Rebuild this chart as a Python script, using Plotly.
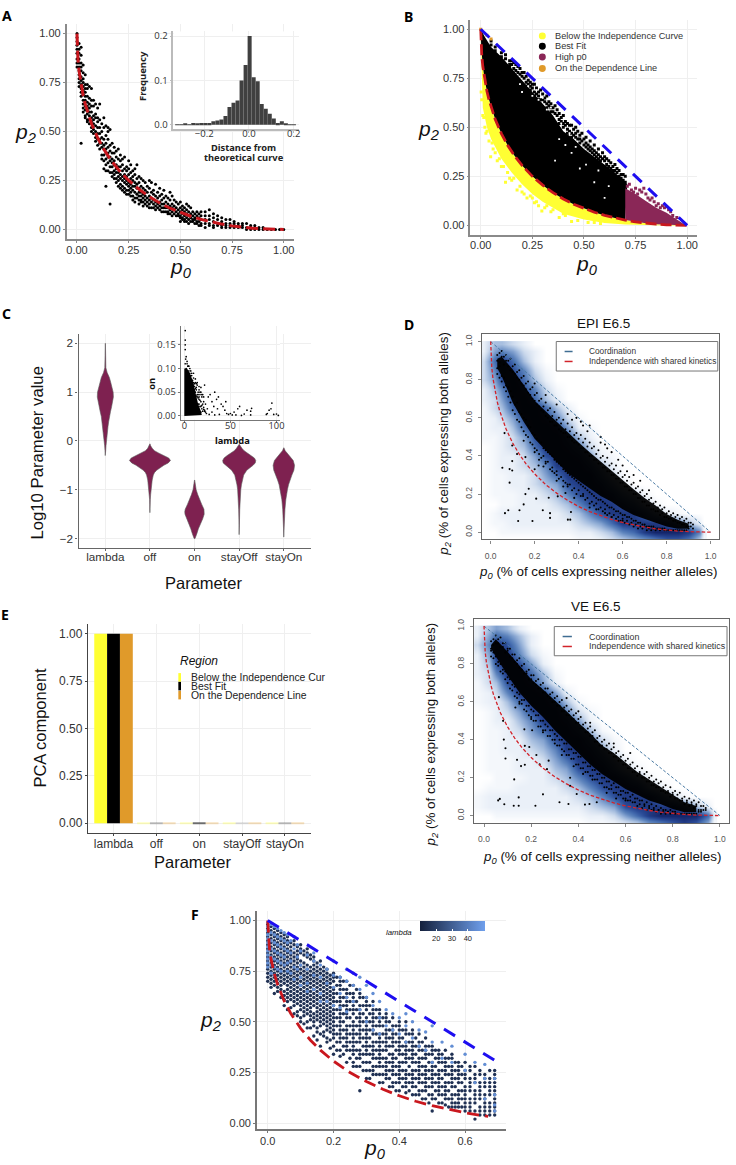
import plotly.graph_objects as go

W, H = 736, 1165
FONT = "Liberation Sans"
BOLD = "Noto Sans"

# ---------- shared curves ----------
CURVE_P0 = [0,.002,.005,.01,.02,.03,.04,.05,.07,.1,.13,.16,.2,.25,.3,.35,.4,.45,.5,.55,.6,.65,.67,.7,.75,.8,.85,.9,.95,1]
CURVE_P2 = [1,.913,.864,.81,.737,.684,.64,.603,.541,.468,.409,.36,.306,.25,.205,.167,.135,.108,.086,.067,.051,.038,.033,.027,.018,.011,.006,.003,.001,0]
LINE_P0 = [0, 1]
LINE_P2 = [1, 0]
LINE_F_P0 = [0, .69]
LINE_F_P2 = [1, .31]

# ---------- panel A ----------
A_P0 = [0,1,2,3,4,5,6,7,8,9,10,11,12,13,14,15,16,17,18,19,20,21,22,23,24,25,26,27,28,29,30,31,32,33,34,35,36,37,38,39,40,41,42,43,44,45,46,47,48,49,50,51,52,53,54,55,56,57,58,59,60,62,64,66,68,70,72,74,76,78,80,82,84,86,88,90,92,94,96,98,100]
A_P2 = [[100,98,96,94,92,90,87,85,83],[95,92,90,87,85,83,81,79,77,75,73],[93,89,85,83,81,78,76,74,72,70,68,44],[84,80,77,75,73,71,69,66,64,62,60],[79,74,72,70,68,66,63,61,58,57],[74,72,68,65,63,61,59,56,55],[73,67,64,62,60,58,56,54],[72,66,63,60,57,55,52,50],[66,63,58,56,54,51,49],[64,59,57,53,50,47,45],[62,57,55,52,49,46,43],[64,56,52,49,46,44,41],[54,50,47,44,42,38,36],[57,52,46,43,41,38,35,31],[53,48,44,41,39,36,33,30,22],[52,50,46,42,39,37,34,30],[51,43,40,37,35,32,29,13],[44,39,36,34,32,29,27],[42,39,35,33,30,28,26],[40,37,33,31,29,26,24],[41,36,32,29,27,25,22],[38,35,32,28,26,23,21],[36,33,30,27,25,22,20],[37,31,28,26,24,21,19],[32,30,27,25,23,20,18],[35,31,28,24,22,20,18],[33,29,26,23,21,19,17],[30,27,25,22,20,17,15],[31,28,24,22,19,16,14],[33,26,23,21,18,16],[27,24,21,19,17,15,13],[26,22,19,17,15,14],[25,21,18,16,14,12],[24,20,17,15,13],[22,19,16,14,12],[25,21,17,15,13,11],[24,19,16,14,11],[20,18,15,13,11],[23,17,14,12,10],[19,16,13,11],[21,17,14,12,10],[18,15,13,11,9],[20,16,13,11,9],[17,14,11,9],[16,13,11,9,8],[19,15,12,10,8],[17,13,11,9,7],[15,12,10,8],[14,11,9,7],[13,10,8,7],[14,11,9,7,6,4],[12,10,8,6,5],[11,9,7,5,4],[13,10,8,6,4],[12,9,7,5,3],[11,8,6,4],[9,7,5,4],[8,6,5,3],[9,7,4,3],[8,6,4,2],[9,7,5,3,2],[9,7,5,3,1],[10,7,5,3,2],[8,6,4,2,1],[7,5,3,2],[6,4,3,2,1],[5,3,2,1],[5,3,2,1],[4,3,2,1],[3,2,1],[3,2,1],[3,1,0],[2,1,0],[2,1,0],[1,0],[1,0],[0],[0],[0],[0],[0]]
HIST_X = [-.321,-.303,-.285,-.267,-.249,-.231,-.213,-.195,-.177,-.159,-.141,-.123,-.105,-.087,-.069,-.051,-.033,-.015,.003,.021,.039,.057,.075,.093,.111,.129,.147,.165,.183,.201]
HIST_Y = [.001,.001,.002,.001,.004,.002,.004,.004,.004,.008,.01,.012,.02,.04,.05,.055,.10,.135,.2,.107,.098,.047,.036,.025,.014,.004,.008,.002,.001,.001]

# ---------- panel B ----------
B_BEST_UP_P0 = [0,.02,.05,.1,.15,.2,.25,.3,.35,.4,.45,.5,.55,.6,.65,.71]
B_BEST_UP_P2 = [1,.96,.91,.86,.8,.74,.68,.62,.56,.48,.44,.39,.35,.31,.27,.21]
B_LOW_P0 = [0,.005,.01,.03,.05,.1,.15,.2,.25,.3,.35,.4,.5,.6,.7,.8,.9,.98]
B_LOW_P2 = [.95,.70,.6,.5,.44,.34,.27,.21,.16,.12,.09,.06,.03,.012,.004,.001,0,0]
B_HIGH_UP_P0 = [.7,.75,.8,.85,.9,.95,.98,1]
B_HIGH_UP_P2 = [.19,.16,.125,.09,.065,.03,.01,0]
B_TOP_P0 = [5,7,10,12,14,15,16,17,18,19,20,21,22,23,24,25,26,27,28,29,30,31,32,33,34,35,36,37,38,39,40,41,42,43,44,45,46,47,48,49,50,51,52,53,54,55,56,57,58,59,60,61,62,63,64,65,66,67,68,69,70]
B_TOP_P2 = [[94,92],[91,89],[88,86],[87,85],[84,82,81],[82,84],[83,80],[79,82],[81,78],[77,80],[78,76],[75,78],[76,73,71],[74,72],[73,71,69],[72,70],[72,68,66],[70,67],[68,66,64],[69,64],[67,64],[63,65],[66,62,60],[61,63],[62,60,58],[60,58],[61,57],[56,59],[57,54,52],[55,53],[56,52,50],[53,51],[52,49,47],[48,51],[51,47,45],[49,46],[50,47,45],[44,48],[46,44,42],[47,43],[44,41],[45,42,40],[41,39],[43,40,38],[39,37],[41,38,36],[37,35],[39,36,34],[35,33],[37,34],[35,33],[34,31],[33,30],[32,29],[30,28],[31,28],[27,29],[28,25],[26,24],[26,23],[25,22]]
B_OUT_P0 = [.002,.005,.01,.015,.02,.025,.03,.04,.048,.055,.06,.07,.08,.09,.1,.11,.12,.13,.14,.15,.16,.176,.19,.2,.21,.224,.24,.25,.26,.27,.28,.296,.31,.32,.34,.35,.38,.4,.41,.44,.47,.52,.55,.58]
B_OUT_P2 = [.68,.64,.56,.55,.5,.47,.48,.43,.35,.42,.39,.37,.33,.34,.3,.3,.22,.27,.24,.23,.24,.18,.2,.17,.16,.14,.15,.14,.115,.12,.1,.073,.09,.1,.07,.08,.04,.06,.05,.02,.025,.015,.015,.01]
B_HIGH_P0 = [.71,.72,.73,.74,.75,.76,.77,.78,.79,.8,.81,.82,.83,.84,.85,.86,.87,.88,.89,.9,.91,.92,.93,.95]
B_HIGH_P2 = [.2,.21,.18,.17,.19,.16,.18,.17,.19,.16,.14,.13,.14,.12,.1,.11,.09,.1,.09,.095,.08,.07,.05,.04]
B_HOLE_P0 = [.19,.2,.23,.25,.28,.32,.36,.38,.41,.44,.46,.51,.55,.57,.62,.6,.48,.27,.3,.34,.39,.43]
B_HOLE_P2 = [.72,.68,.71,.66,.64,.59,.33,.44,.41,.37,.4,.31,.22,.28,.2,.14,.29,.69,.65,.6,.52,.47]
B_ON_P0 = [0,.03,.05]
B_ON_P2 = [1,.97,.95]

# ---------- panel C ----------
PARAMS = ["lambda", "off", "on", "stayOff", "stayOn"]
V_LAMBDA_Y = [2,1.75,1.5,1.4,1.3,1.2,1.1,1,.9,.8,.7,.6,.5,.4,.3,.2,.1,0,-.1,-.2,-.3]
V_LAMBDA_W = [.002,.006,.012,.04,.09,.12,.15,.175,.18,.165,.14,.115,.09,.075,.06,.045,.035,.025,.015,.008,.002]
V_OFF_Y = [-.06,-.1,-.15,-.2,-.25,-.3,-.35,-.4,-.45,-.5,-.55,-.6,-.65,-.7,-.8,-.9,-1,-1.1,-1.2,-1.3,-1.47]
V_OFF_W = [.002,.015,.05,.1,.2,.32,.42,.46,.41,.31,.22,.15,.1,.075,.05,.035,.025,.015,.008,.005,.002]
V_ON_Y = [-.8,-.9,-1,-1.1,-1.2,-1.3,-1.4,-1.45,-1.5,-1.6,-1.7,-1.8,-1.9,-1.97,-2]
V_ON_W = [.002,.012,.035,.07,.11,.16,.21,.22,.215,.18,.13,.085,.05,.025,.01]
V_STAYOFF_Y = [-.07,-.1,-.15,-.2,-.25,-.3,-.35,-.4,-.45,-.5,-.55,-.6,-.7,-.8,-.9,-1,-1.2,-1.4,-1.6,-1.92]
V_STAYOFF_W = [.002,.02,.06,.11,.18,.27,.34,.37,.36,.31,.24,.17,.1,.07,.05,.035,.02,.012,.007,.002]
V_STAYON_Y = [-.14,-.2,-.3,-.4,-.5,-.6,-.7,-.8,-.9,-1,-1.1,-1.2,-1.4,-1.6,-1.8,-1.97]
V_STAYON_W = [.002,.03,.12,.21,.24,.225,.18,.14,.105,.08,.06,.045,.025,.012,.006,.002]
C_CORE_X = [0,0,3,6,9,11,13,15,18,19,0]
C_CORE_Y = [0,.1,.1,.09,.075,.06,.04,.025,.01,.002,0]
C_X = [1,1,1,1,2,1.5,3,1,4,6,2,6,8,5,9,11,3,10,12,14,18,22,20,16,13,15,17,19,21,23,25,22,24,27,26,28,30,33,35,37,33,38,40,42,44,46,48,50,52,54,45,58,60,62,65,68,72,73,72,89,90,92,94,95,97,100,102,56,36,30,32,14,16,18,12,15,17,19,20,21,11,13,10,16,18,20,22,14,15,17,19,21,13,16,18,23,11,12,8,7,9,4,5,10,3,5,7,8,10,12,14,16,18,19,21,15,17,13]
C_Y = [.18,.16,.15,.14,.125,.12,.115,.11,.105,.1,.1,.09,.085,.095,.075,.068,.09,.08,.07,.065,.06,.065,.045,.055,.06,.05,.045,.04,.03,.025,.015,.01,.005,.003,.04,.045,.03,.05,.035,.04,.002,.003,.025,.02,.012,.005,.003,.005,.002,.008,.03,.015,.02,.001,.004,.012,.01,.016,.002,.003,.005,.012,.015,.027,.003,.004,.001,.002,.015,.008,.02,.04,.035,.03,.05,.025,.02,.015,.01,.018,.055,.042,.065,.025,.02,.025,.012,.045,.038,.033,.022,.014,.055,.04,.008,.008,.062,.058,.075,.085,.07,.105,.088,.07,.11,.105,.095,.09,.09,.078,.07,.062,.05,.045,.04,.045,.05,.068]

# ---------- panels D and VE ----------
GRID_X_D = [-.03,.02,.05,.1,.15,.2,.25,.3,.35,.4,.45,.5,.55,.6,.65,.7,.75,.8,.85,.9,.95,.97]
GRID_X_V = [-.03,.02,.05,.1,.15,.2,.25,.3,.35,.4,.45,.5,.55,.6,.65,.7,.75,.8,.85,.9,.95,.975]
GRID_Y = [.985,.95,.9,.85,.8,.75,.7,.65,.6,.55,.5,.45,.4,.35,.3,.25,.2,.15,.1,.05,0,-.03]
D_Z = [[1,3,3,2,1],[1,4,5,4,2,1],[2,6,8,6,3,1],[2,5,8,7,5,2,.5],[2,4,7,8,6,3,1],[1,3,5,8,7,5,2,.5],[1,2,4,7,8,6,3,1],[.5,2,3,6,8,8,6,3,1],[.5,1,2,4,7,8,7,5,2,.5],[.5,1,1,3,6,8,8,7,4,1,.5],[.5,.5,1,2,4,7,8,8,6,3,1],[0,.5,1,2,3,6,8,8,7,5,2,.5],[0,.5,1,1,2,4,7,8,8,7,4,1,.5],[0,.5,1,1,2,3,5,8,8,8,6,3,1],[0,.5,.5,1,1,2,4,6,8,8,8,5,2,.5],[0,.5,.5,1,1,2,3,4,7,8,8,7,4,1],[0,.5,.5,.5,1,1,2,3,5,7,8,8,7,4,2,.5],[0,0,.5,.5,1,1,1,2,3,5,7,8,8,7,5,2,.5],[0,.5,1,1,1,1,1,1,2,3,5,7,8,8,8,6,3,1,.5],[0,.5,.5,1,1,1,1,1,1,2,3,4,6,8,8,8,8,7,5,3,1],[0,0,.5,.5,.5,.5,.5,.5,.5,1,1,2,3,5,6,8,9,9,9,8,5,1],[0,0,0,0,0,0,0,0,0,.5,.5,1,2,3,4,5,6,7,7,6,3,.5]]
V_Z = [[1,3,4,3,1],[1,4,6,5,3,1],[2,5,8,7,4,1],[1,4,8,8,5,2,.5],[1,3,7,8,7,4,1],[1,2,5,8,8,6,3,.5],[.5,2,3,7,8,7,4,1],[.5,1,2,5,8,8,7,4,1],[.5,1,1,3,6,8,8,6,3,.5],[0,.5,1,2,4,7,8,8,5,2,.5],[0,.5,1,1,3,5,8,8,7,4,1],[0,.5,.5,1,2,4,6,8,8,6,3,.5],[0,.5,.5,1,1,3,4,7,8,8,5,2,.5],[0,.5,.5,1,1,2,3,5,8,8,7,4,1],[0,.5,.5,.5,1,1,2,4,6,8,8,6,3,.5],[0,.5,.5,.5,1,1,1,3,4,7,8,8,5,2,.5],[0,0,.5,.5,.5,1,1,2,3,5,7,8,8,6,3,.5],[0,.5,.5,.5,1,1,1,1,2,3,5,7,8,8,7,3,1],[.5,1,1,1,1,1,1,1,1,2,3,5,7,8,8,8,5,2,.5],[.5,1,1,1,1,1,1,1,1,1,2,3,4,7,8,8,8,8,6,3,1],[0,0,.5,.5,.5,.5,.5,.5,.5,.5,1,1,2,4,6,8,9,9,9,9,6,1],[0,0,0,0,0,0,0,0,0,0,.5,.5,1,2,3,5,6,7,8,7,4,.5]]
D_P0 = list(range(3, 93))
D_P2 = [[93,90,86,83],[94,89,87,81],[95,92,82,79],[92,88,81,76],[93,90,77,74],[90,87,76,71],[91,85,74,68],[87,84,71,64],[88,83,67,62],[84,81,68,59],[85,80,63,58],[81,78,62,55],[82,77,60,53],[78,75,59,51],[79,73,56,50],[75,72,55,47],[76,70,52,46],[72,69,51,44],[73,67,49,43],[69,66,48,41],[70,64,47,39],[66,63,44,40],[68,61,43,36],[64,60,42,37],[65,58,41,33],[61,58,40,34],[63,56,38,31],[59,56,37,32],[60,54,36,28],[57,53,35,29],[59,52,33,27],[54,52,32,26],[57,50,31,24],[53,50,30,25],[55,48,29,22],[51,47,28,23],[52,47,27,20],[49,46,26,22],[51,44,25,19],[47,44,24,20],[49,42,23,17],[45,42,22,18],[47,40,21,15],[44,40,20,16],[45,38,19,14],[41,38,18,15],[43,36,17,12],[39,36,17,13],[40,34,16,11],[37,34,15,12],[39,32,14,9],[35,32,13,10],[36,30,13,8],[33,30,12,9],[35,28,11,7],[31,28,11,8],[32,26,10,6],[29,26,9,7],[30,24,9,5],[27,24,8,6],[29,22,8,4],[25,22,7,5],[26,20,6,3],[23,20,6,4],[24,18,5,2],[21,18,5,3],[22,16,4,2],[19,16,4,3],[20,14,3,1],[17,14,3,2],[18,12,3,1],[15,12,3,2],[16,11,2,1],[13,11,2],[14,9,2,1],[12,10,2],[13,8,2,1],[10,8,1],[11,7,1],[9,7,1],[10,6,1],[8,6,1],[9,5,1],[7,5,1],[8,4,1],[6,4,1],[7,3,1],[5,3,2],[5,3],[4,2]]
D_CORE_X = [.03,.05,.1,.15,.2,.25,.3,.35,.4,.45,.5,.55,.6,.65,.7,.75,.8,.85,.9,.9,.85,.8,.75,.7,.65,.6,.55,.5,.45,.4,.35,.3,.25,.2,.15,.1,.05,.03]
D_CORE_Y = [.91,.92,.855,.77,.69,.635,.58,.52,.47,.42,.37,.32,.27,.225,.18,.14,.095,.065,.045,.018,.018,.03,.05,.07,.09,.12,.16,.19,.23,.27,.31,.37,.43,.49,.58,.68,.82,.86]
D_OUT_P0 = [.053,.086,.098,.098,.086,.065,.08,.125,.131,.15,.158,.173,.19,.207,.237,.264,.27,.27,.351,.362,.365,.34,.305,.063,.098,.12,.158,.2,.218,.24,.37,.39,.41,.45,.44,.5,.52,.53,.5,.55,.42,.35,.3,.25,.2,.6,.62,.65,.68,.72,.58,.15,.2,.22,.25,.3,.33,.35,.38,.42,.45,.48,.52,.55,.58,.6,.3,.28]
D_OUT_P2 = [.338,.331,.324,.373,.26,.10,.115,.059,.115,.146,.2,.228,.059,.176,.115,.181,.10,.075,.066,.066,.106,.206,.188,.52,.455,.41,.394,.33,.35,.345,.59,.6,.58,.56,.53,.5,.46,.44,.47,.42,.56,.62,.67,.72,.78,.35,.32,.3,.27,.22,.38,.48,.42,.38,.37,.3,.24,.25,.18,.19,.13,.12,.1,.08,.06,.06,.27,.32]
V_P0 = list(range(3, 95))
V_P2 = [[92,88,87,84],[93,90,86,83],[95,91,84,80],[93,91,81,79],[94,89,80,76],[91,89,77,75],[91,86,76,72],[88,87,73,70],[88,84,72,67],[85,83,69,66],[85,81,68,63],[82,80,65,62],[83,78,64,59],[79,77,61,59],[80,75,61,56],[76,75,58,55],[77,72,58,53],[74,72,56,52],[74,70,55,50],[71,69,53,50],[72,67,53,47],[69,67,50,47],[70,65,50,45],[67,65,48,45],[67,63,47,42],[64,62,45,42],[65,60,45,40],[62,60,43,40],[63,58,42,37],[60,58,40,37],[61,55,40,35],[57,55,38,34],[58,53,38,32],[55,53,35,32],[56,51,35,30],[53,51,33,30],[54,49,33,27],[51,49,31,27],[52,46,31,25],[48,46,28,25],[49,44,28,23],[46,44,26,23],[47,42,26,21],[44,42,24,21],[45,39,24,19],[41,39,22,19],[42,37,22,17],[39,37,20,17],[40,35,20,15],[37,35,18,15],[38,33,18,14],[35,33,16,14],[36,31,17,12],[33,31,15,12],[34,29,15,11],[31,29,13,11],[32,27,13,9],[29,27,12,9],[30,25,12,8],[27,25,10,8],[28,23,11,7],[25,23,9,7],[26,21,9,5],[23,22,8,6],[25,20,8,4],[22,20,6,5],[23,18,7,3],[20,18,5,4],[21,16,6,3],[18,16,4,3],[19,15,5,2],[17,15,3,3],[18,13,4,1],[15,13,3,2],[16,12,3,1],[13,12,2,2],[15,10,3,1],[12,11,2],[13,9,2,1],[11,9,1],[12,8,1],[9,8,1],[10,6,1],[8,7,1],[9,5,1],[7,6,1],[8,4,1],[6,5,1],[7,3,2],[5,3,2],[5,3],[4,3]]
V_CORE_X = [.03,.05,.1,.15,.2,.25,.3,.35,.4,.45,.5,.55,.6,.65,.7,.75,.8,.85,.9,.9,.85,.8,.75,.7,.65,.6,.55,.5,.45,.4,.35,.3,.25,.2,.15,.1,.05,.03]
V_CORE_Y = [.9,.93,.865,.79,.72,.665,.61,.55,.49,.435,.37,.33,.28,.23,.19,.15,.11,.07,.05,.018,.018,.035,.06,.08,.11,.14,.18,.22,.27,.33,.39,.45,.52,.58,.65,.74,.84,.88]
V_OUT_P0 = [.06,.067,.086,.126,.147,.147,.218,.25,.32,.358,.128,.091,.091,.084,.081,.063,.14,.157,.173,.192,.173,.222,.236,.274,.267,.365,.365,.393,.428,.447,.478,.133,.171,.204,.15,.2,.25,.3,.33,.38,.42,.46,.52,.56,.6,.35,.4,.45,.55,.62]
V_OUT_P2 = [.08,.088,.06,.052,.052,.096,.052,.112,.07,.061,.191,.301,.355,.401,.5,.625,.294,.261,.268,.362,.368,.32,.27,.29,.245,.2,.157,.114,.058,.061,.07,.57,.455,.45,.6,.51,.44,.38,.32,.26,.22,.19,.12,.09,.08,.62,.55,.49,.38,.33]

# ---------- panel E ----------
E_YELLOW = [1,.001,.001,.001,.001]
E_BLACK = [1,.003,.002,.001,.002]
E_ORANGE = [1,.001,.001,.001,.001]

# ---------- panel F ----------
F_P0 = [0,1,2,3,4,5,6,7,8,9,10,11,12,13,14,15,16,17,18,19,20,22,24,26,28,30,32,34,36,38,40,42,44,46,48,50,52,54,56,58,60,61.5,63,64.5,66,67.5,69]
F_DARK = [[98,96,94,92,90,88,86,84,82,80,78,76,74,72,70],[97,95,93,91,89,87,85,83,81,79,77,75,73,71,69,67],[96,94,92,90,88,86,84,82,80,78,76,74,72,70,68,64],[95,93,91,89,87,85,83,81,79,77,75,73,71,69,67,65],[94,92,90,88,86,84,82,80,78,76,74,72,70,68,66,62],[93,91,89,87,85,83,81,79,77,75,73,71,69,65,63,61,58],[92,90,88,86,84,82,80,78,76,74,72,70,68,66,64,62,60,56],[89,87,85,83,81,79,77,75,73,71,69,67,65,63,61,57],[90,88,84,82,80,78,76,74,72,70,68,66,64,62,60,58,54],[87,85,83,81,79,77,75,73,71,69,67,65,63,61,59,55,53],[88,86,84,80,78,76,74,72,70,68,66,64,62,60,58,56,52,50],[85,83,79,77,75,73,71,69,67,65,63,61,59,57,55,53,49],[86,84,82,78,76,74,72,70,68,66,64,62,60,58,56,54,50,47],[83,81,77,75,73,71,69,67,65,63,61,59,57,55,53,51,47],[82,80,78,76,74,72,70,68,66,64,62,60,58,54,52,50,48,43],[79,77,75,73,71,69,67,65,63,61,59,57,55,53,51,47,45,41],[80,76,74,72,70,68,66,64,62,60,58,56,54,52,50,48,44,38],[77,75,73,71,69,67,65,63,61,59,57,55,53,51,49,45,43],[76,74,72,70,68,66,64,62,60,58,56,54,52,50,48,46,42,40],[73,71,69,67,65,63,61,59,57,55,53,51,49,47,45,41,37],[74,72,70,66,64,62,60,58,56,54,52,50,48,46,44,42,38,34],[72,70,68,66,62,60,58,56,54,52,50,48,46,44,42,40,36,33],[70,66,64,62,60,58,56,54,52,48,46,44,42,40,38,36,30],[68,64,62,60,58,56,54,50,48,46,44,42,40,38,36,34,30,28],[64,62,58,56,54,52,50,48,46,44,42,40,36,34,32,28,16],[62,60,58,56,52,50,48,46,44,42,40,38,36,34,30,26,22],[60,56,54,52,50,48,46,44,40,38,36,34,32,28,26,24],[56,54,52,50,48,44,42,40,38,36,34,32,30,28,24,20],[54,52,50,46,44,42,40,38,36,32,30,28,26,24,22],[52,48,46,44,42,40,38,34,32,30,28,26,24,20,18],[50,48,46,42,40,38,36,34,30,28,26,24,22,20,16],[50,46,44,40,38,36,34,32,30,26,24,22,20,18,15],[46,44,40,38,36,34,32,30,26,24,22,20,18,14],[44,40,38,36,32,30,28,26,24,22,20,16,14],[42,38,36,34,32,28,26,24,22,20,18,16,12],[38,36,34,30,28,26,24,22,20,18,14,12,6],[36,34,32,30,26,24,22,20,18,16,14,10],[36,32,30,28,26,24,20,18,16,14,12,9],[34,32,28,26,24,22,20,18,14,12,10,8],[30,28,26,24,22,20,16,14,12,10,8],[30,26,24,22,18,16,14,12,10,8,6],[28,26,22,20,18,16,12,10,8,6],[28,24,22,20,16,14,12,10,6,2],[26,24,20,18,16,14,12,8,6,4],[24,22,20,18,14,12,10,8,6,4],[26,22,20,18,16,14,10,8,6,4],[26,24,22,20,18,16,14,12,10,8,6,4]]
F_ODD_P0 = [21,23,25,27,29,31,33,35,37,39,41,43,45,47,49,51,53,55,57,59]
F_ODD = [[72,68,64,60,56,52,48,44,40,36],[70,66,62,58,54,50,46,42,38,34],[68,64,60,56,52,48,44,40,36,32],[66,60,56,52,48,44,40,36,32,28],[62,58,54,50,46,42,38,34,30,26],[58,54,50,46,42,38,34,30,26,22],[56,52,48,44,40,36,32,28,24],[52,48,44,40,36,32,28,24,20],[50,46,42,38,34,30,26,22,18],[48,44,40,36,32,28,24,20,16],[46,42,38,34,30,26,22,18],[44,40,36,32,28,24,20,16],[42,38,34,30,26,22,18,14],[40,36,32,28,24,20,16,12],[38,34,30,26,22,18,14,10],[36,32,28,24,20,16,12],[34,30,26,22,18,14,10],[32,28,24,20,16,12,8],[30,26,22,18,14,10,8],[28,24,20,16,12,8]]
F_LIGHT_P0 = [0,1,2,3,4,5,6,7,8,9,10,12,14,16,18,20,22,24,26,28,30,32,34,36,38,40,42,44,46,48,50,53,56,60,63,66,69]
F_LIGHT = [[99,97,95,93,91,89,87,85,83,81,79,77],[98,94,90,86,82,78,74],[97,93,89,85,81,77,73],[96,92,88,84,80,76],[95,91,87,83,79,75],[94,90,86,82,78],[93,89,85,79,75],[90,84,80,74],[92,86,77,71],[88,82,76],[85,78,72,68],[83,76,69,65],[84,80,73,66],[78,72,64,60],[76,69,60],[80,73,67,58],[72,64,57],[76,70,62,55],[74,68,60],[72,66,56],[68,62,50],[64,58,46],[60,52,44],[56,48],[54,46],[52,44],[54,48,40],[50,42],[46,38],[45,36],[48,40,30],[40,32],[38,30],[34,26],[30,20],[29,22,12],[22,14,9,6]]
F_LAMBDA_DARK = 15
F_LAMBDA_LIGHT = 45

# ---------- colours ----------
RED, BLUE = "#c9171e", "#1e0ef0"
YELLOW, ORANGE, MAROON = "#ffff33", "#e09a2a", "#8a2757"
VIOLIN = "#7e2150"
DENSITY = [[0,"#ffffff"],[.11,"#eaf0f8"],[.22,"#cfdcee"],[.33,"#a9c0e0"],[.44,"#83a2d0"],[.55,"#5f85bd"],[.66,"#456db0"],[.8,"#2a4a96"],[1,"#14256a"]]


def flat(xs, yss):
    ox, oy = [], []
    for x, ys in zip(xs, yss):
        for y in ys:
            ox.append(x / 100)
            oy.append(y / 100)
    return ox, oy


def px(x):
    return x / W


def py(y):
    return 1 - y / H


def pad(rows):
    return [r + [0] * (22 - len(r)) for r in rows][::-1]


fig = go.Figure()


def line(x, y, ax, color, width, dash, name):
    fig.add_trace(go.Scatter(x=x, y=y, xaxis="x" + ax, yaxis="y" + ax, mode="lines", name=name,
                             line=dict(color=color, width=width, dash=dash)))


def pts(x, y, ax, color, size, name, symbol="circle"):
    fig.add_trace(go.Scatter(x=x, y=y, xaxis="x" + ax, yaxis="y" + ax, mode="markers", name=name,
                             marker=dict(color=color, size=size, symbol=symbol, line=dict(width=0))))


def poly(x, y, ax, color, name, opacity=1):
    fig.add_trace(go.Scatter(x=x, y=y, xaxis="x" + ax, yaxis="y" + ax, mode="lines", fill="toself",
                             fillcolor=color, line=dict(width=0, color=color), opacity=opacity, name=name))


# A
ax_, ay_ = flat(A_P0, A_P2)
pts(ax_, ay_, "", "#000000", 3, "Cells")
line(CURVE_P0, CURVE_P2, "", RED, 3, "12px,5px", "Independence curve")
fig.add_trace(go.Bar(x=HIST_X, y=HIST_Y, width=.018, xaxis="x2", yaxis="y2", marker=dict(color="#404040", line=dict(width=0)), name="Distance"))

# B
n_best = len([v for v in CURVE_P0 if v <= .7])
poly(B_LOW_P0 + CURVE_P0[::-1], B_LOW_P2 + CURVE_P2[::-1], "3", YELLOW, "Below the Independence Curve")
bx, by = flat(B_TOP_P0, B_TOP_P2)
pts(B_OUT_P0, B_OUT_P2, "3", YELLOW, 3, "Below the Independence Curve points", "square")
poly(B_BEST_UP_P0 + CURVE_P0[:n_best][::-1], B_BEST_UP_P2 + CURVE_P2[:n_best][::-1], "3", "#000000", "Best Fit")
poly(B_HIGH_UP_P0 + CURVE_P0[n_best - 1:][::-1], B_HIGH_UP_P2 + CURVE_P2[n_best - 1:][::-1], "3", MAROON, "High p0")
pts(bx, by, "3", "#000000", 3, "Best Fit points", "square")
pts(B_HIGH_P0, B_HIGH_P2, "3", MAROON, 3, "High p0 points", "square")
pts(B_HOLE_P0, B_HOLE_P2, "3", "#ffffff", 1.8, "gaps", "square")
pts(B_ON_P0, B_ON_P2, "3", ORANGE, 3, "On the Dependence Line", "square")
line(CURVE_P0, CURVE_P2, "3", RED, 2.8, "11px,4px", "Independence curve")
line(LINE_P0, LINE_P2, "3", BLUE, 3, "12px,9px", "Dependence line")

# C
for i, (vy, vw) in enumerate([(V_LAMBDA_Y, V_LAMBDA_W), (V_OFF_Y, V_OFF_W), (V_ON_Y, V_ON_W), (V_STAYOFF_Y, V_STAYOFF_W), (V_STAYON_Y, V_STAYON_W)]):
    vx = [i + w for w in vw] + [i - w for w in vw[::-1]]
    fig.add_trace(go.Scatter(x=vx, y=vy + vy[::-1], xaxis="x4", yaxis="y4", mode="lines", fill="toself", fillcolor=VIOLIN,
                             line=dict(color="#5a5a5a", width=.6), name=PARAMS[i]))
poly(C_CORE_X, C_CORE_Y, "5", "#000000", "on vs lambda core")
pts(C_X, C_Y, "5", "#000000", 1.7, "on vs lambda")


# D and VE
def density(ax, gx, z, core_x, core_y, p0, p2, ox, oy):
    fig.add_trace(go.Heatmap(x=gx, y=GRID_Y[::-1], z=pad(z), xaxis="x" + ax, yaxis="y" + ax, zsmooth="best",
                             zmin=0, zmax=9, colorscale=DENSITY, showscale=False, name="density"))
    poly(core_x, core_y, ax, "#000000", "Cells dense", .95)
    x, y = flat(p0, p2)
    pts(x, y, ax, "#000000", 2, "Cells")
    pts(ox, oy, ax, "#000000", 2.1, "Cells outlying")
    line(LINE_P0, LINE_P2, ax, "#4a7aa3", 1, "3px,2px", "Coordination")
    line(CURVE_P0, CURVE_P2, ax, "#d2232a", 1.3, "3.5px,2px", "Independence with shared kinetics")


density("6", GRID_X_D, D_Z, D_CORE_X, D_CORE_Y, D_P0, D_P2, D_OUT_P0, D_OUT_P2)
density("7", GRID_X_V, V_Z, V_CORE_X, V_CORE_Y, V_P0, V_P2, V_OUT_P0, V_OUT_P2)

# E
for vals, col, nm, op in [(E_YELLOW, YELLOW, "Below the Independence Curve", [1, .3, .3, .3, .3]),
                          (E_BLACK, "#000000", "Best Fit", [1, .25, .55, .12, .25]),
                          (E_ORANGE, ORANGE, "On the Dependence Line", [1, .3, .3, .3, .3])]:
    fig.add_trace(go.Bar(x=PARAMS, y=vals, xaxis="x8", yaxis="y8", marker=dict(color=col, opacity=op, line=dict(width=0)), name=nm))

# F
dx, dy = flat(F_P0 + F_ODD_P0, F_DARK + F_ODD)
lx, ly = flat(F_LIGHT_P0, F_LIGHT)
fig.add_trace(go.Scatter(x=dx + lx, y=dy + ly, xaxis="x9", yaxis="y9", mode="markers", name="lambda",
                         marker=dict(size=3.4, line=dict(width=0), color=[F_LAMBDA_DARK] * len(dx) + [F_LAMBDA_LIGHT] * len(lx),
                                     cmin=9.4, cmax=50.6, colorscale=[[0, "#14203c"], [1, "#6f9fec"]],
                                     colorbar=dict(orientation="h", x=px(454.5), xanchor="center", y=py(922.3), yanchor="top",
                                                   len=65, lenmode="pixels", thickness=10.4, thicknessmode="pixels",
                                                   xpad=0, ypad=0, outlinewidth=0, tickvals=[20, 30, 40], ticks="inside", ticklen=2,
                                                   tickcolor="#ffffff", tickfont=dict(family=FONT, size=7.5, color="#222222")))))
line([v for v in CURVE_P0 if v <= .67], CURVE_P2[:len([v for v in CURVE_P0 if v <= .67])], "9", RED, 2.8, "12px,6px", "Independence curve")
line(LINE_F_P0, LINE_F_P2, "9", BLUE, 3, "13px,10px", "Dependence line")


GG = dict(showgrid=True, gridcolor="#efefef", gridwidth=1, showline=True, zeroline=False, ticks="outside", ticklen=2)


def gg(l, r, t, b, xr, yr, xt, yt, xf=None, yf=None, lc="#8a8a8a", lw=1.6, size=11, xtt=None, family=FONT, fc="#333333", xoff=0, yoff=0):
    x = dict(GG, domain=[px(l), px(r)], range=xr, tickvals=xt, linecolor=lc, linewidth=lw, tickcolor=lc, ticklabelstandoff=xoff,
             tickfont=dict(family=family, size=size, color=fc))
    y = dict(GG, domain=[py(b), py(t)], range=yr, tickvals=yt, linecolor=lc, linewidth=lw, tickcolor=lc, ticklabelstandoff=yoff,
             tickfont=dict(family=family, size=size, color=fc))
    if xf:
        x["tickformat"] = xf
    if yf:
        y["tickformat"] = yf
    if xtt:
        x["ticktext"] = xtt
    return x, y


def base(l, r, t, b, xr, yr, xoff):
    T = [0, .25, .5, .75, 1]
    return gg(l, r, t, b, xr, yr, T, T, ".2f", ".2f", xoff=xoff)


def rbase(l, r, t, b, xr, yr, yoff):
    T = [0, .2, .4, .6, .8, 1]
    x, y = gg(l, r, t, b, xr, yr, T, T, ".1f", ".1f", lc="#666666", lw=1.2, size=8.5, fc="#555555", xoff=5, yoff=yoff)
    for a in (x, y):
        a.update(showgrid=False, mirror=True, ticklen=3, tickcolor="#888888")
    y["tickangle"] = -90
    return x, y


axes = {}
axes[""] = base(67, 295.7, 22.3, 238, [-.05, 1.05], [-.05, 1.048], -2)
axes["2"] = gg(174.3, 300.7, 29.3, 127.7, [-.338, .224], [-.01, .211], [-.2, 0, .2], [0, .1, .2], ".1f", ".1f", lc="#bbbbbb", size=9.5, family="Open Sans", xoff=-7)
axes["3"] = base(473, 701.3, 18.3, 234, [-.05, 1.05], [-.05, 1.046], -3)
axes["4"] = gg(79, 312.3, 332.7, 547.7, [-.6, 4.6], [-2.19, 2.2], [0, 1, 2, 3, 4], [-2, -1, 0, 1, 2], lc="#666666", lw=1.3, size=11.7, xtt=PARAMS, xoff=-4)
axes["5"] = gg(181.7, 281.7, 325, 419.3, [-3.9, 104], [-.0084, .19], [0, 50, 100], [0, .05, .1, .15], None, ".2f", lc="#777777", lw=1.2, size=9.3, family="Open Sans", xoff=-5)
axes["6"] = rbase(484.3, 723.3, 333.3, 539.3, [-.041, 1.04], [-.038, 1.039], 2)
axes["7"] = rbase(476.7, 733.3, 619, 824, [-.042, 1.04], [-.04, 1.038], 3)
axes["8"] = gg(88.3, 312.3, 624.3, 834, [-.6, 4.6], [-.052, 1.05], None, [0, .25, .5, .75, 1], None, ".2f", lc="#444444", lw=1.2, size=12, xoff=-3)
axes["9"] = gg(258.3, 508.3, 912.3, 1130.7, [-.033, .723], [-.028, 1.046], [0, .2, .4, .6], [0, .25, .5, .75, 1], ".1f", ".2f", lc="#777777", lw=1.5, xoff=-1)

layout = {}
for k, (x, y) in axes.items():
    y["anchor"] = "x" + k
    x["anchor"] = "y" + k
    if x.get("tickvals") is None:
        x.pop("tickvals")
    layout["xaxis" + k] = x
    layout["yaxis" + k] = y

A = []


def text(s, x, y, size, angle=0, anchor="center", color="#111111", family=FONT, vanchor="middle"):
    A.append(dict(text=s, x=px(x), y=py(y), xref="paper", yref="paper", showarrow=False, xanchor=anchor, yanchor=vanchor,
                  textangle=angle, font=dict(family=family, size=size, color=color)))


P0 = "<i>p<sub>0</sub></i>"
P2 = "<i>p<sub>2</sub></i>"
# panel letters
for s, x, y in [("A", 7, 14), ("B", 411, 15), ("C", 7, 313), ("D", 411, 324), ("E", 5, 615), ("F", 196, 916)]:
    text("<b>%s</b>" % s, x, y, 14, color="#000000", family=BOLD)
# axis titles
text(P0, 182, 267, 21); text(P2, 26, 131, 21)
text(P0, 590, 264, 21); text(P2, 431, 128, 21)
text(P0, 377, 1151, 21); text(P2, 212, 1023, 21)
text("<b>Frequency</b>", 144, 74, 9.5, -90, family=BOLD, color="#222")
text("<b>Distance from</b>", 245, 146, 9.3, family=BOLD, color="#222")
text("<b>theoretical curve</b>", 245, 156, 9.3, family=BOLD, color="#222")
text("Log10 Parameter value", 37.3, 453, 16.7, -90)
text("Parameter", 205, 583, 16.5)
text("<b>on</b>", 153, 383, 9.3, -90, family=BOLD, color="#111")
text("<b>lambda</b>", 234, 440, 9.3, family=BOLD, color="#111")
text("EPI E6.5", 607, 322.7, 13.5)
text("VE E6.5", 599.3, 607, 13.5)
text(P0 + " (% of cells expressing neither alleles)", 601.7, 572.3, 13.4)
text(P2 + " (% of cells expressing both alleles)", 447.3, 443.3, 13.4, -90)
text(P0 + " (% of cells expressing neither alleles)", 605, 858, 13.4)
text(P2 + " (% of cells expressing both alleles)", 434.3, 735, 13.4, -90)
text("PCA component", 39.3, 728, 16.5, -90)
text("Parameter", 194, 863, 16.5)
text("<i>Region</i>", 179, 661, 12, anchor="left")
text("<i>lambda</i>", 416, 934, 7.8, anchor="right")

S = []


def box(x0, y0, x1, y1, fill, lc=None, lw=0, circle=False):
    S.append(dict(type="circle" if circle else "rect", xref="paper", yref="paper", x0=px(x0), x1=px(x1), y0=py(y0), y1=py(y1),
                  fillcolor=fill, line=dict(color=lc or fill, width=lw)))


def seg(x0, x1, y, color):
    S.append(dict(type="line", xref="paper", yref="paper", x0=px(x0), x1=px(x1), y0=py(y), y1=py(y), line=dict(color=color, width=1.5)))


# inset backgrounds hide the main panel's grid
for k, (xr, yr) in {"2": ([-.338, .224], [-.01, .211]), "5": ([-3.9, 104], [-.0084, .19])}.items():
    S.append(dict(type="rect", xref="x" + k, yref="y" + k, x0=xr[0], x1=xr[1], y0=yr[0], y1=yr[1], layer="below",
                  fillcolor="#ffffff", line=dict(width=0)))

# panel B key
for lab, col, y in [("Below the Independence Curve", YELLOW, 34), ("Best Fit", "#000000", 44.3), ("High p0", MAROON, 55.3), ("On the Dependence Line", ORANGE, 66.7)]:
    box(541.8, y - 3.5, 548.8, y + 3.5, col, circle=True)
    text(lab, 555.7, y, 9.2, anchor="left", color="#333333")
# panel D / VE keys
for (l, r, t, b, a, z, tx, fs, y1, y2) in [(559.3, 721.7, 340.7, 370.3, 567.7, 575.7, 590, 8.3, 350.7, 360.7), (557.3, 731, 626.7, 656, 565.7, 575, 590, 8.9, 636.7, 646.7)]:
    box(l, t, r, b, "#ffffff", "#777777", 1)
    seg(a, z, y1, "#3f6d92")
    seg(a, z, y2, "#d2232a")
    text("Coordination", tx, y1, fs, anchor="left", color="#333333")
    text("Independence with shared kinetics", tx, y2, fs, anchor="left", color="#333333")
# panel E key
for lab, col, y in [("Below the Independence Cur", YELLOW, 677.7), ("Best Fit", "#000000", 686.5), ("On the Dependence Line", ORANGE, 695.5)]:
    box(179.3, y - 4.3, 182, y + 4.3, col)
    text(lab, 190, y, 10.4, anchor="left", color="#222222")

fig.update_layout(width=W, height=H, autosize=False, margin=dict(l=0, r=0, t=0, b=0), paper_bgcolor="#ffffff", plot_bgcolor="rgba(0,0,0,0)",
                  showlegend=False, hovermode=False, barmode="group", bargap=.1, bargroupgap=0, annotations=A, shapes=S,
                  font=dict(family=FONT), **layout)
fig.write_html("out.html", config={"displayModeBar": False}, post_script="document.body.style.margin='0';")
